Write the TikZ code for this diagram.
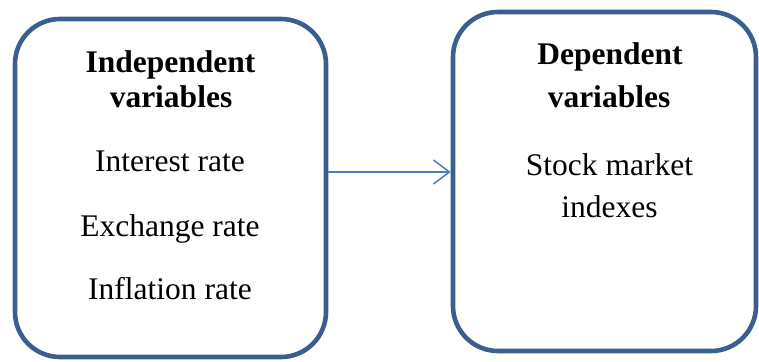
\documentclass[tikz,border=0pt]{standalone}
\usepackage{fontspec}
\setmainfont{Liberation Serif}
\usepackage{xcolor}
\usepackage{tikz}
\usetikzlibrary{arrows.meta, positioning}
\definecolor{boxblue}{RGB}{58,95,143}
\definecolor{arrowblue}{RGB}{74,126,187}

\begin{document}
\begin{tikzpicture}[x=1pt, y=1pt,
		varbox/.style={draw=boxblue, line width=4.6pt, rounded corners=45pt, inner sep=0pt},
		txt/.style={anchor=base, inner sep=0pt, font=\fontsize{31.5}{35}\selectfont},
		head/.style={txt, font=\fontsize{31.5}{35}\selectfont\bfseries},
		link/.style={draw=arrowblue, line width=1.5pt, -{Straight Barb[length=16pt, width=24pt, line width=1.5pt]}}]
			\useasboundingbox (0, 0) rectangle (759, 361);
			% Boxes:
			\node[varbox, minimum width=311pt, minimum height=338pt](L) at (170.5, 173){};
			\node[varbox, minimum width=303pt, minimum height=339pt](R) at (604.5, 179.5){};
			% Left texts:
			\node[head](H1) at (170.5, 288){Independent};
			\node[head](H2) at (171, 253){variables};
			\node[txt](T1) at (170, 189){Interest rate};
			\node[txt](T2) at (170, 124){Exchange rate};
			\node[txt](T3) at (170, 61){Inflation rate};
			% Right texts:
			\node[head](H3) at (610, 296){Dependent};
			\node[head](H4) at (609, 253){variables};
			\node[txt](T4) at (609.5, 185){Stock market};
			\node[txt](T5) at (609.5, 143){indexes};
			% Arrow:
			\draw[link] ([yshift=16pt]L.east) -- ([yshift=9.5pt]R.west);
		\end{tikzpicture}
\end{document}
